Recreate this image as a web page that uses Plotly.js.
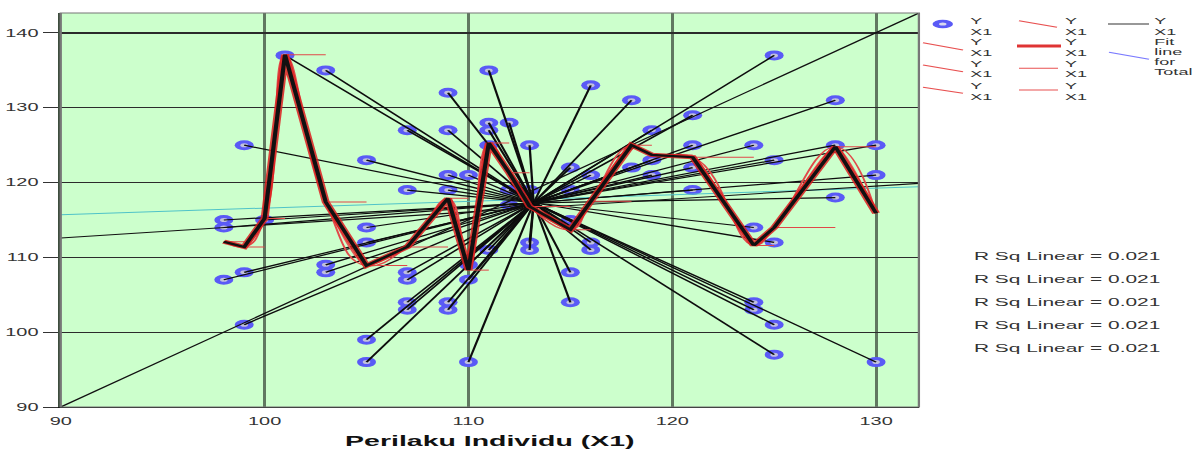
<!DOCTYPE html>
<html><head><meta charset="utf-8">
<script src="https://cdn.plot.ly/plotly-3.0.1.min.js"></script>
<style>
html,body{margin:0;padding:0;background:#fff;overflow:hidden;width:1198px;height:449px;}
#wrap{width:631px;height:449px;transform:scaleX(1.898574);transform-origin:0 0;}
</style></head><body>
<div id="wrap"><div id="chart" style="width:631px;height:449px;"></div></div>
<script>
// ---- data ----
const pointX = [98,98,98, 99,99,99, 100, 101, 103,103,103, 105,105,105,105,105,
  107,107,107,107,107,107, 109,109,109,109,109,109, 110,110,110,110, 111,111,111,111,111,
  112,112,112, 113,113,113,113, 115,115,115,115,115, 116,116,116,116, 118,118,
  119,119,119, 121,121,121,121, 124,124,124,124, 125,125,125,125,125, 128,128,128, 130,130,130];
const pointY = [115,114,107, 125,108,101, 115, 137, 135,109,108, 123,114,112,99,96,
  127,119,108,107,104,103, 132,127,121,119,104,103, 121,109,107,96, 135,128,127,125,111,
  128,119,117, 125,119,112,111, 122,119,115,108,104, 133,121,112,111, 131,122,
  127,123,121, 129,125,122,119, 125,114,104,103, 137,123,112,101,97, 131,125,118, 125,121,96];
const centroidX = 113.2, centroidY = 117.3;
const meanX = [98,99,100,101,103,105,107,109,110,111,112,113,115,116,118,119,121,124,125,128,130];
const meanY = [112.1,111.4,115.2,137.1,117.4,108.9,111.4,117.9,108.3,125.3,121.3,116.8,113.7,117.5,125.0,123.7,123.4,111.6,114.0,124.8,115.9];
const lineX = [90, 132.1];
const fitY = [112.6, 119.9];
const totalFitY = [115.7, 119.45];
const diagY = [90, 142.67];
const xTicks = [90,100,110,120,130];
const yTicks = [90,100,110,120,130,140];
const rsqLabels = ['R Sq Linear = 0.021','R Sq Linear = 0.021','R Sq Linear = 0.021','R Sq Linear = 0.021','R Sq Linear = 0.021'];
const xTitle = 'Perilaku Individu (X1)';

// ---- derived geometry ----
const spokeX = [], spokeY = [];
pointX.forEach((x,i)=>{ spokeX.push(x, centroidX, null); spokeY.push(pointY[i], centroidY, null); });
const jumpX = [], jumpY = [];
for (let i=0;i<meanX.length-1;i++){ jumpX.push(meanX[i], meanX[i+1], null); jumpY.push(meanY[i], meanY[i], null); }

const FONT = 'Liberation Sans, Arial, sans-serif';
const traces = [
  {x:pointX, y:pointY, mode:'markers', marker:{size:10, color:'#5a5af6'}},
  {x:pointX, y:pointY, mode:'markers', marker:{size:4, color:'#c0c0dc'}},
  {x:lineX, y:totalFitY, mode:'lines', line:{color:'#4fc3c8', width:1}},
  {x:spokeX, y:spokeY, mode:'lines', line:{color:'#0d0d0d', width:1.2}},
  {x:lineX, y:fitY, mode:'lines', line:{color:'#111', width:1.1}},
  {x:lineX, y:diagY, mode:'lines', line:{color:'#111', width:1.1}},
  {x:jumpX, y:jumpY, mode:'lines', line:{color:'#e04848', width:1}},
  {x:meanX, y:meanY, mode:'lines', line:{color:'#e65555', width:1, shape:'spline', smoothing:0.6}},
  {x:meanX, y:meanY, mode:'lines', line:{color:'#e04a4a', width:1.1, shape:'spline', smoothing:1.3}},
  {x:meanX, y:meanY, mode:'lines', line:{color:'rgba(220,30,30,0.85)', width:4.2}},
  {x:meanX, y:meanY, mode:'lines', line:{color:'#111', width:2.2}}
];
traces.forEach(t=>{t.type='scatter'; t.showlegend=false; t.hoverinfo='skip';});

// pixel (scaled reference picture) -> paper helpers
const S = 1198/631, L = 32, T = 13, PW = 452, PH = 394;
const PX = xs => (xs/S - L)/PW;
const PY = ys => 1 - (ys - T)/PH;

const shapes = [
  {type:'rect', xref:'paper', yref:'paper', x0:0, x1:1, y0:0, y1:1, line:{color:'#777', width:1.2}, layer:'above'},
  // legend marker
  {type:'circle', xref:'paper', yref:'paper', x0:PX(932.5), x1:PX(953), y0:PY(28.3), y1:PY(19.7), fillcolor:'#5a5af6', line:{width:0}},
  {type:'circle', xref:'paper', yref:'paper', x0:PX(939), x1:PX(946.5), y0:PY(25.6), y1:PY(22.4), fillcolor:'#d8d8ee', line:{width:0}},
];
function seg(x0,y0,x1,y1,color,width){ shapes.push({type:'line', xref:'paper', yref:'paper', x0:PX(x0), y0:PY(y0), x1:PX(x1), y1:PY(y1), line:{color:color, width:width}}); }
seg(923,42.7,963,50,'#e85050',1);
seg(923,65,963,71.7,'#e85050',1);
seg(923,87.3,963,93.3,'#e85050',1);
seg(1019,20.7,1057,27.3,'#e85050',1);
seg(1017,46,1061,46,'rgba(220,30,30,0.9)',3);
seg(1019,68.3,1058,68.3,'#e85050',1);
seg(1019,90,1058,90,'#e85050',1);
seg(1108,24,1149,24,'#333',1);
seg(1109,52.3,1149,59.3,'#7a7aff',1);

const annotations = [];
function txt(text,xs,ys,size){ annotations.push({text:text, xref:'paper', yref:'paper', x:PX(xs), y:PY(ys), xanchor:'left', yanchor:'middle', showarrow:false, borderpad:0, font:{family:FONT, size:size, color:'#333'}}); }
[[968,20,31],[968,41.7,52],[968,63.3,73.3],[968,85,96],
 [1064,20,31],[1064,41.7,52],[1064,63.3,73.3],[1064,85,96],[1153,20,31]].forEach(r=>{ txt('Y', r[0], r[1], 9.5); txt('X1', r[0], r[2], 9.5); });
txt('Fit',1153,41.7,9.5); txt('line',1153,51.7,9.5); txt('for',1153,61.7,9.5); txt('Total',1153,71.3,9.5);
const rsqY = [256,279,301.5,324.5,347.5];
rsqLabels.forEach((t,i)=>txt(t, 973, rsqY[i], 11));

const layout = {
  width:631, height:449, margin:{l:L, r:147, t:T, b:42},
  paper_bgcolor:'#fff', plot_bgcolor:'#ccffcc',
  xaxis:{range:[90,132.1], tickvals:xTicks, ticktext:xTicks.map(String), showgrid:true, gridcolor:'rgba(60,75,60,0.75)', gridwidth:1.6,
    zeroline:false, showline:true, linecolor:'#111', linewidth:1, ticks:'', ticklabelstandoff:4, tickfont:{family:FONT, size:10.5, color:'#333'},
    title:{text:xTitle, font:{family:FONT, size:15, color:'#111', weight:'bold'}, standoff:10}},
  yaxis:{range:[90,142.67], tickvals:yTicks, ticktext:yTicks.map(String), showgrid:true, gridcolor:'#2b2b2b', gridwidth:1.1,
    zeroline:false, showline:true, linecolor:'#3d4d3d', linewidth:1.6, ticks:'outside', ticklen:8, tickcolor:'#333', tickwidth:1,
    tickfont:{family:FONT, size:10.5, color:'#333'}},
  shapes:shapes, annotations:annotations, showlegend:false
};
Plotly.newPlot('chart', traces, layout, {staticPlot:true, displayModeBar:false, responsive:false});
</script></body></html>
